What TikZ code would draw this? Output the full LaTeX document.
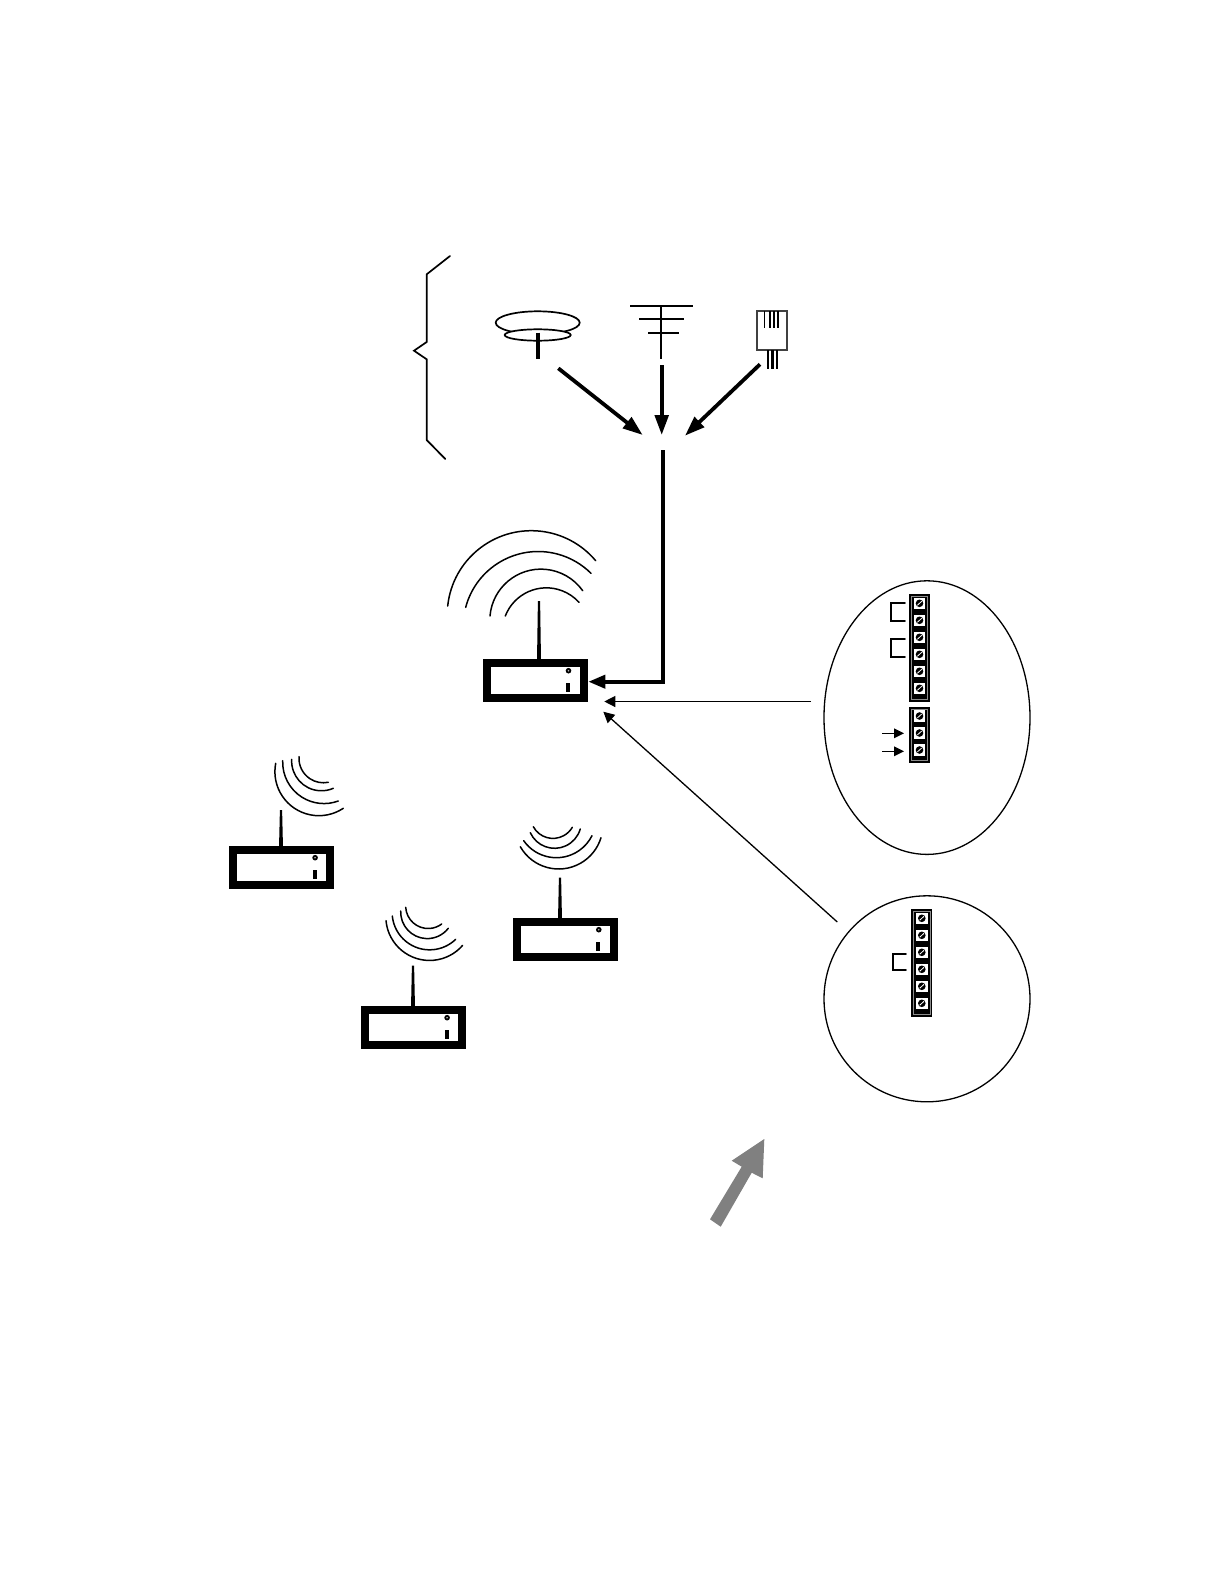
\documentclass[tikz,border=0pt]{standalone}
\usetikzlibrary{arrows.meta}
\tikzset{
  x=1bp,y=1bp,
  routerbox/.style={draw=black,fill=white,line width=8bp,minimum width=97bp,minimum height=35bp,inner sep=0pt,outer sep=4bp},
  wave/.style={line width=1.5bp,line cap=round},
  thin line/.style={line width=1.7bp,line cap=round,line join=miter},
  heavy/.style={line width=3.8bp,-{Triangle[length=20bp,width=13.5bp]}},
  fine/.style={line width=1.3bp,-{Triangle[length=11bp,width=11bp]}},
  smallarrow/.style={line width=1.6bp,-{Triangle[length=10bp,width=9.5bp]}},
}
\newcommand{\wavearc}[6]{%
  \pgfmathsetmacro{\wvax}{(#3-#1)/100}\pgfmathsetmacro{\wvay}{(#2-#4)/100}%
  \pgfmathsetmacro{\wvbx}{(#5-#1)/100}\pgfmathsetmacro{\wvby}{(#2-#6)/100}%
  \pgfmathsetmacro{\wvdet}{2*(\wvax*\wvby-\wvay*\wvbx)}%
  \pgfmathsetmacro{\wvaa}{\wvax*\wvax+\wvay*\wvay}\pgfmathsetmacro{\wvbb}{\wvbx*\wvbx+\wvby*\wvby}%
  \pgfmathsetmacro{\wvux}{(\wvby*\wvaa-\wvay*\wvbb)/\wvdet}\pgfmathsetmacro{\wvuy}{(\wvax*\wvbb-\wvbx*\wvaa)/\wvdet}%
  \pgfmathsetmacro{\wvrad}{100*sqrt(\wvux*\wvux+\wvuy*\wvuy)}%
  \pgfmathsetmacro{\wvsa}{atan2(-\wvuy,-\wvux)}%
  \pgfmathsetmacro{\wvma}{atan2(\wvay-\wvuy,\wvax-\wvux)}%
  \pgfmathsetmacro{\wvea}{atan2(\wvby-\wvuy,\wvbx-\wvux)}%
  \pgfmathsetmacro{\wvdm}{mod(\wvma-\wvsa+720,360)}%
  \pgfmathsetmacro{\wvde}{mod(\wvea-\wvsa+720,360)}%
  \pgfmathsetmacro{\wvdelta}{\wvdm<\wvde ? \wvde : \wvde-360}%
  \draw[wave] (#1,-#2) arc[start angle=\wvsa,delta angle=\wvdelta,radius=\wvrad];%
}
% name, left, top, antenna x, antenna top
\newcommand{\routerunit}[5]{%
  \pgfmathsetmacro{\rtcx}{#2+52.5}\pgfmathsetmacro{\rtcy}{-(#3+21.5)}%
  \pgfmathsetmacro{\rtlx}{#2+85.8}\pgfmathsetmacro{\rtly}{-(#3+11.7)}%
  \pgfmathsetmacro{\rtbx}{#2+85.3}\pgfmathsetmacro{\rtbt}{-(#3+24)}\pgfmathsetmacro{\rtbb}{-(#3+33.2)}%
  \pgfmathsetmacro{\rtat}{-(#5)}\pgfmathsetmacro{\rtab}{-(#3+2)}%
  \node[routerbox] (#1) at (\rtcx,\rtcy) {};
  \fill[black] (#4-1.1,\rtat) -- (#4+1.1,\rtat) -- (#4+2.0,\rtab) -- (#4-2.0,\rtab) -- cycle;
  \fill[black] (\rtlx,\rtly) circle[radius=2.8];
  \fill[white!70!black] (\rtlx,\rtly) circle[radius=0.9];
  \fill[black] (\rtbx-2,\rtbt) rectangle (\rtbx+2,\rtbb);
}
\newcommand{\blockbody}[3]{%
  \fill[black] (#1-10.5,-#2) rectangle (#1+10.5,-#3);
  \draw[white!55!black,line width=0.9bp] (#1-8.2,-#2-2.4) rectangle (#1+8.2,-#3+2.4);
}
\newcommand{\screwcell}[2]{%
  \fill[white] (#1-5.9,-#2-6) rectangle (#1+5.9,-#2+5.8);
  \fill[black] (#1,-#2) circle[radius=3.8];
  \draw[white,line width=0.8bp] (#1-2.2,-#2-2.0) -- (#1+2.2,-#2+2.0);
}
\begin{document}
\begin{tikzpicture}
\useasboundingbox (0,0) rectangle (1224,-1584);
\fill[white] (0,0) rectangle (1224,-1584);

% brace
\draw[thin line] (450,-256) -- (426.7,-274.3) -- (426.7,-342) -- (414,-350.7) -- (426.7,-359.3) -- (426.7,-440) -- (445.3,-459);

% smoke detector
\draw[line width=1.7bp] (537.7,-322.7) ellipse[x radius=42,y radius=11.4];
\draw[line width=1.7bp,fill=white] (537.7,-335) ellipse[x radius=33,y radius=5.7];
\draw[line width=3.6bp] (538,-332.7) -- (538,-359.3);

% antenna
\draw[line width=1.8bp] (630,-306) -- (692.7,-306);
\draw[line width=1.8bp] (639,-319) -- (684,-319);
\draw[line width=1.8bp] (648,-332.7) -- (678.7,-332.7);
\draw[line width=1.8bp] (660.7,-306) -- (660.7,-359.3);

% phone plug
\draw[line width=1.7bp,draw=black!75] (756.7,-311) rectangle (786.7,-350);
\foreach \px in {764.7,770,774,778} \draw[line width=1.2bp] (\px,-311) -- (\px,-328.3);
\foreach \px in {767.7,772.3,777} \draw[line width=2.4bp] (\px,-350) -- (\px,-368.7);

% routers
\routerunit{mainrouter}{482.7}{659}{539}{601}
\routerunit{leftrouter}{229.3}{846}{281}{810}
\routerunit{lowrouter}{361.3}{1006}{413}{965.7}
\routerunit{midrouter}{513}{918}{560}{877.7}

% waves: main
\wavearc{447.7}{606}{530}{530.7}{595.7}{560.7}
\wavearc{465.7}{607.3}{533}{551.7}{591}{573.3}
\wavearc{490}{616}{536.7}{569.3}{582.7}{590.7}
\wavearc{505.3}{616}{540}{588.3}{579}{602.3}
% waves: left
\wavearc{299}{756.7}{307.3}{776.7}{328.3}{782.3}
\wavearc{291.7}{759.3}{301.7}{783.3}{333.3}{788.3}
\wavearc{282.7}{760.7}{295}{791.7}{338.3}{801}
\wavearc{275.7}{763.3}{288.3}{803.3}{343.3}{808.3}
% waves: low
\wavearc{405.7}{907.3}{425}{928.3}{441.7}{924}
\wavearc{400.7}{911}{423.3}{938.3}{448.3}{928.3}
\wavearc{392.3}{916}{423.3}{949.3}{455.7}{939.3}
\wavearc{386}{920.7}{423.3}{960}{462.7}{945.3}
% waves: mid
\wavearc{533.3}{826.7}{555}{838.3}{572.3}{827.3}
\wavearc{530.3}{832.7}{555}{848.3}{580.3}{829}
\wavearc{523.7}{840.7}{556.7}{857.7}{592}{835.7}
\wavearc{520.3}{846.7}{558.3}{869}{601}{837.7}

% connector coordinates
\coordinate (smoketail) at (558.3,-368.3);
\coordinate (smoketip) at (642.7,-435);
\coordinate (anttail) at (661.7,-365);
\coordinate (anttip) at (661.7,-435);
\coordinate (plugtail) at (760,-364.3);
\coordinate (plugtip) at (685,-435.7);
\coordinate (busstart) at (662.8,-450);
\coordinate (buscorner) at (662.8,-681.7);
\coordinate (bustip) at (588.3,-681.7);
\coordinate (fineonetail) at (811,-701.5);
\coordinate (fineonetip) at (604.3,-701.5);
\coordinate (finetwotail) at (837.3,-922);
\coordinate (finetwotip) at (603.3,-711.7);

\draw[heavy] (smoketail) -- (smoketip);
\draw[heavy] (anttail) -- (anttip);
\draw[heavy] (plugtail) -- (plugtip);
\draw[line width=3.8bp,line join=miter,-{Triangle[length=17bp,width=13bp]}] (busstart) -- (buscorner) -- (bustip);
\draw[fine] (fineonetail) -- (fineonetip);
\draw[fine] (finetwotail) -- (finetwotip);

% callouts
\draw[line width=1.3bp] (927,-717.6) ellipse[x radius=103,y radius=136.8];
\draw[line width=1.3bp] (927,-998.8) circle[radius=103];

% terminal blocks
\blockbody{919.5}{594}{701.7}
\foreach \sy in {603.3,620.3,637.3,654.3,671.3,688.3} {\screwcell{919.5}{\sy}}
\blockbody{919.5}{706.7}{762.7}
\foreach \sy in {716,733,750} {\screwcell{919.5}{\sy}}
\blockbody{921.8}{909}{1016.7}
\foreach \sy in {918.3,935.3,952.3,969.3,986.3,1003.3} {\screwcell{921.8}{\sy}}

% jumpers
\draw[thin line] (905,-603.3) -- (890.7,-603.3) -- (890.7,-620.7) -- (905,-620.7);
\draw[thin line] (905,-639.3) -- (890.7,-639.3) -- (890.7,-657.3) -- (905,-657.3);
\draw[thin line] (906,-954) -- (892.7,-954) -- (892.7,-970) -- (906,-970);

% small arrows
\coordinate (sa) at (882,-733.3); \coordinate (sb) at (904,-733.3);
\coordinate (sc) at (882,-751.3); \coordinate (sd) at (904,-751.3);
\draw[smallarrow] (sa) -- (sb);
\draw[smallarrow] (sc) -- (sd);

% grey arrow
\fill[black!50] (710,-1219.3) -- (720.7,-1226.7) -- (751.7,-1172.7) -- (762.7,-1178.3) -- (764.3,-1139) -- (731.7,-1160.7) -- (741.7,-1166.7) -- cycle;
\end{tikzpicture}
\end{document}
